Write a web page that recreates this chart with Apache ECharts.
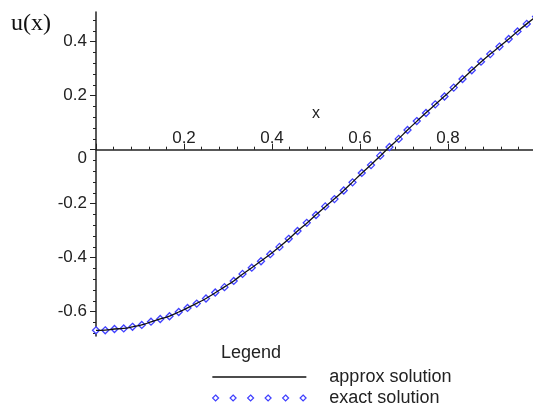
<!DOCTYPE html>
<html>
<head>
<meta charset="utf-8">
<script src="https://cdn.jsdelivr.net/npm/echarts@6/dist/echarts.min.js"></script>
<style>
    html, body { margin: 0; padding: 0; background: #fff; }
    #chart_con { width: 533px; height: 404px; }
</style>
</head>
<body>
<div id="chart_con"></div>
<script>
    // sample points
    var xValues = [0, 0.021, 0.042, 0.063, 0.083, 0.104, 0.125, 0.146, 0.167, 0.188,
        0.208, 0.229, 0.25, 0.271, 0.292, 0.313, 0.333, 0.354, 0.375, 0.396,
        0.417, 0.438, 0.458, 0.479, 0.5, 0.521, 0.542, 0.563, 0.583, 0.604,
        0.625, 0.646, 0.667, 0.688, 0.708, 0.729, 0.75, 0.771, 0.792, 0.813,
        0.833, 0.854, 0.875, 0.896, 0.917, 0.938, 0.958, 0.979, 1];
    var exactU = [-0.669, -0.669, -0.664, -0.662, -0.656, -0.649, -0.637, -0.627, -0.617, -0.601,
        -0.586, -0.570, -0.551, -0.529, -0.509, -0.486, -0.460, -0.437, -0.413, -0.387,
        -0.360, -0.330, -0.301, -0.271, -0.242, -0.210, -0.183, -0.151, -0.121, -0.086,
        -0.057, -0.022, 0.010, 0.040, 0.073, 0.106, 0.136, 0.168, 0.197, 0.230,
        0.262, 0.294, 0.326, 0.354, 0.382, 0.410, 0.438, 0.466, 0.493];
    var approxU = [-0.669, -0.668, -0.664, -0.662, -0.656, -0.649, -0.638, -0.627, -0.616, -0.601,
        -0.586, -0.569, -0.551, -0.530, -0.508, -0.486, -0.461, -0.437, -0.412, -0.387,
        -0.360, -0.331, -0.301, -0.272, -0.241, -0.211, -0.182, -0.151, -0.120, -0.087,
        -0.056, -0.023, 0.010, 0.041, 0.073, 0.105, 0.137, 0.167, 0.198, 0.230,
        0.262, 0.294, 0.325, 0.354, 0.382, 0.410, 0.438, 0.466, 0.493];

    var xTickLabels = ['0.2', '0.4', '0.6', '0.8'];
    var yTickValues = [-0.6, -0.4, -0.2, 0, 0.2, 0.4];
    var yTickLabels = ['-0.6', '-0.4', '-0.2', '0', '0.2', '0.4'];

    var seriesNames = ['approx solution', 'exact solution'];

    var yMin = -0.69;
    var yMax = 0.51;
    var gridTop = 12;
    var gridHeight = 324;

    var yMinorTicks = [];
    for (var k = -17; k <= 12; k++) {
        yMinorTicks.push(Math.round(k * 0.04 * 100) / 100);
    }

    function pairs(xs, ys) {
        return xs.map(function (x, i) { return [x, ys[i]]; });
    }

    var textColor = '#222';
    var fontFamily = '"Liberation Sans", Arial, sans-serif';
    var diamondRow = 'path://M3,0L6,3L3,6L0,3Z M20.5,0L23.5,3L20.5,6L17.5,3Z M38,0L41,3L38,6L35,3Z ' +
        'M55.5,0L58.5,3L55.5,6L52.5,3Z M73,0L76,3L73,6L70,3Z M90.5,0L93.5,3L90.5,6L87.5,3Z';

    // the x axis sits on u = 0: place it at the top of the grid and shift it down
    var xAxisOffset = -gridHeight * yMax / (yMax - yMin);

    var option = {
        animation: false,
        backgroundColor: '#fff',
        textStyle: { fontFamily: fontFamily, color: textColor },
        title: {
            text: 'Legend',
            left: 221,
            top: 344,
            padding: 0,
            textStyle: { fontSize: 18, fontWeight: 'normal', color: textColor, fontFamily: fontFamily }
        },
        legend: {
            orient: 'vertical',
            left: 212,
            top: 368,
            height: 80,
            padding: 0,
            itemGap: 3,
            itemWidth: 94,
            itemHeight: 6,
            textStyle: { fontSize: 18, color: textColor, padding: [0, 0, 0, 18] },
            data: [
                {
                    name: seriesNames[0],
                    icon: 'path://M0,0L94,0L94,1.5L0,1.5Z',
                    itemStyle: { color: '#111', borderWidth: 0 }
                },
                {
                    name: seriesNames[1],
                    icon: diamondRow,
                    itemStyle: { color: '#fff', borderColor: '#4040ff', borderWidth: 1.2 }
                }
            ]
        },
        graphic: [
            {
                type: 'text',
                left: 11,
                top: 12,
                style: { text: 'u(x)', font: '24px "Liberation Serif", "Times New Roman", serif', fill: '#111' }
            }
        ],
        grid: {
            left: 96,
            top: gridTop,
            width: 440,
            height: gridHeight,
            outerBoundsMode: 'none',
            containLabel: false
        },
        xAxis: {
            type: 'value',
            position: 'top',
            offset: xAxisOffset,
            min: 0,
            max: 1,
            interval: 0.2,
            name: 'x',
            nameLocation: 'middle',
            nameGap: 28,
            nameTextStyle: { fontSize: 16, color: textColor },
            axisLine: { show: true, onZero: false, lineStyle: { color: '#222', width: 1.5 } },
            axisTick: { inside: false, length: 6, lineStyle: { color: '#222' } },
            minorTick: { show: true, splitNumber: 5, length: 3, lineStyle: { color: '#222' } },
            splitLine: { show: false },
            axisLabel: {
                inside: false,
                margin: 3,
                fontSize: 17,
                color: textColor,
                formatter: function (v) {
                    var i = Math.round(v / 0.2) - 1;
                    return xTickLabels[i] || '';
                }
            }
        },
        yAxis: [
            {
                type: 'value',
                min: yMin,
                max: yMax,
                axisLine: { show: true, onZero: false, lineStyle: { color: '#222', width: 1.5 } },
                axisTick: { show: true, length: 3, customValues: yMinorTicks, lineStyle: { color: '#222' } },
                axisLabel: { show: false },
                splitLine: { show: false }
            },
            {
                type: 'value',
                min: yMin,
                max: yMax,
                position: 'left',
                axisLine: { show: false, onZero: false },
                axisTick: { show: true, length: 6, customValues: yTickValues, lineStyle: { color: '#222' } },
                axisLabel: {
                    margin: 9,
                    fontSize: 17,
                    color: textColor,
                    customValues: yTickValues,
                    formatter: function (v) {
                        var i = yTickValues.indexOf(Math.round(v * 10) / 10);
                        var s = yTickLabels[i];
                        return s === '0' ? '{z|0}' : s;
                    },
                    rich: { z: { fontSize: 17, color: textColor, padding: [17, 0, 0, 0] } }
                },
                splitLine: { show: false }
            }
        ],
        series: [
            {
                name: seriesNames[1],
                type: 'scatter',
                data: pairs(xValues, exactU),
                symbol: 'diamond',
                symbolSize: 7,
                itemStyle: { color: '#fff', borderColor: '#4040ff', borderWidth: 1.3, opacity: 1 },
                z: 2
            },
            {
                name: seriesNames[0],
                type: 'line',
                data: pairs(xValues, approxU),
                smooth: true,
                showSymbol: false,
                lineStyle: { color: '#111', width: 1.3 },
                itemStyle: { color: '#111' },
                z: 3
            }
        ]
    };

    var chart = echarts.init(document.getElementById('chart_con'));
    chart.setOption(option);

    window.addEventListener('resize', function () {
        chart.resize();
    });
</script>
</body>
</html>
